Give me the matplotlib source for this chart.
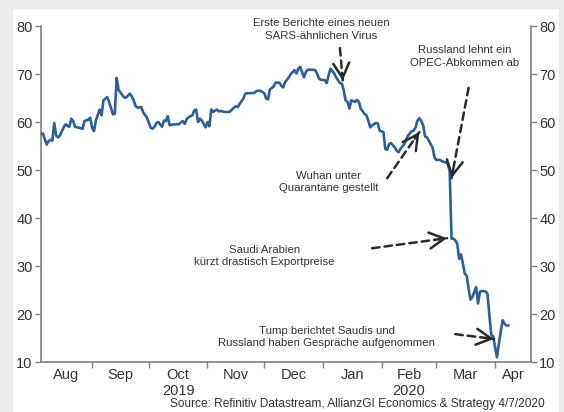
import matplotlib
matplotlib.use("Agg")
import matplotlib.pyplot as plt
import matplotlib.dates as mdates
import matplotlib.ticker as mticker
from matplotlib.patches import Rectangle
import numpy as np
import pandas as pd

plt.rcParams["font.family"] = ["Liberation Sans", "DejaVu Sans"]

# oil price, days counted from 5 Aug 2019
start = pd.Timestamp("2019-08-05")
days = [0, 1, 3, 4, 5, 6, 7, 8, 9, 10, 12, 13, 14, 15, 16, 17, 18, 20, 22, 23,
        25, 26, 27, 28, 29, 31, 32, 33, 35, 36, 38, 39, 40, 41, 43, 44, 45, 47, 48, 49,
        50, 51, 53, 54, 56, 58, 59, 60, 61, 62, 64, 65, 66, 67, 68, 70, 72, 73, 75, 76,
        77, 78, 80, 81, 82, 83, 84, 85, 87, 88, 89, 90, 91, 93, 94, 95, 97, 99, 100, 102,
        103, 104, 105, 107, 108, 109, 111, 113, 114, 116, 118, 119, 120, 121, 123, 124, 126, 127, 128, 129,
        131, 132, 134, 135, 136, 137, 138, 139, 140, 141, 143, 145, 146, 147, 148, 150, 151, 152, 153, 155,
        156, 157, 158, 159, 160, 161, 162, 163, 164, 166, 167, 168, 169, 171, 172, 173, 174, 175, 177, 178,
        179, 181, 182, 183, 184, 185, 187, 188, 189, 190, 192, 193, 194, 196, 197, 198, 199, 200, 201, 202,
        203, 204, 205, 207, 208, 209, 211, 212, 214, 215, 216, 217, 218, 219, 220, 221, 222, 223, 224, 225,
        226, 227, 228, 229, 230, 231, 232, 233, 235, 236, 237, 238, 239, 240, 241, 242, 243, 244, 245, 246,
        247]
prices = [57.5, 57.6, 55.3, 56.0, 56.3, 56.1, 59.8, 57.2, 56.8, 57.2, 58.9, 59.5, 59.2, 59.0, 60.7, 60.2, 59.0, 58.8, 58.6, 60.2,
          60.5, 60.9, 58.8, 58.1, 60.3, 62.6, 61.4, 64.5, 65.2, 64.2, 61.6, 61.7, 69.2, 66.7, 65.6, 65.1, 65.1, 65.9, 65.3, 64.5,
          63.3, 63.0, 63.1, 62.0, 60.9, 58.8, 58.6, 59.0, 59.8, 60.0, 59.0, 60.3, 60.2, 61.2, 59.3, 59.5, 59.5, 59.6, 60.2, 59.6,
          60.6, 61.0, 61.4, 62.4, 62.6, 60.0, 60.7, 60.3, 58.9, 60.0, 59.1, 62.6, 62.1, 62.6, 62.2, 62.3, 62.1, 62.1, 62.2, 63.0,
          63.3, 63.1, 63.8, 64.9, 65.9, 66.0, 66.0, 66.1, 66.5, 66.5, 66.0, 64.9, 64.7, 66.8, 67.4, 68.2, 68.2, 67.6, 67.2, 68.3,
          69.3, 70.0, 70.8, 70.1, 71.1, 71.5, 70.4, 69.3, 70.4, 70.9, 70.9, 70.8, 70.0, 69.0, 68.8, 68.7, 68.1, 69.7, 71.1, 70.1,
          69.3, 68.7, 68.1, 68.0, 66.6, 64.5, 64.2, 62.8, 64.5, 64.2, 64.6, 64.2, 62.8, 61.7, 61.4, 60.3, 58.9, 59.3, 59.8, 59.7,
          58.2, 57.9, 54.4, 54.2, 55.4, 55.6, 54.7, 54.0, 53.7, 54.4, 55.4, 56.3, 57.2, 58.1, 58.2, 58.9, 60.3, 60.8, 60.2, 59.3,
          57.0, 56.8, 56.1, 54.6, 52.6, 52.1, 52.1, 51.8, 51.6, 51.2, 49.9, 35.7, 35.7, 35.3, 34.7, 31.5, 32.4, 30.5, 28.4, 28.0,
          25.3, 23.0, 23.5, 24.6, 25.6, 22.2, 24.6, 24.8, 24.7, 24.2, 19.7, 15.6, 15.4, 13.1, 11.0, 13.8, 16.3, 18.7, 18.0, 17.6,
          17.6]

dates = start + pd.to_timedelta(days, unit="D")
x_end = pd.Timestamp("2020-04-20")

line_color = "#2d5f9a"
text_color = "#333333"
spine_color = "#808080"

fig = plt.figure(figsize=(5.64, 4.12), dpi=100, facecolor="#ebebeb")
fig.patches.append(Rectangle((13 / 564, 0), 546 / 564, 403 / 412,
                             transform=fig.transFigure, facecolor="white",
                             edgecolor="none", zorder=-10))
ax = fig.add_axes([41 / 564, 1 - 362 / 412, 490 / 564, 336 / 412])
ax.set_facecolor("none")

ax.plot(dates, prices, color=line_color, lw=1.9, zorder=3)

ax.set_xlim(start, x_end)
ax.set_ylim(10, 80)

ax.spines["top"].set_visible(False)
for side in ["left", "right", "bottom"]:
    ax.spines[side].set_color(spine_color)
    ax.spines[side].set_linewidth(1.2)

ax.yaxis.set_major_locator(mticker.MultipleLocator(10))
ax.tick_params(axis="y", which="both", left=True, right=True, labelleft=True,
               labelright=True, direction="out", length=4, width=1,
               color=spine_color, labelsize=10.5, labelcolor=text_color)
ax.tick_params(axis="y", which="both", pad=2)

# month boundaries as ticks, month names centred in each month
month_starts = pd.date_range("2019-09-01", "2020-04-01", freq="MS")
ax.set_xticks(month_starts)
ax.xaxis.set_major_formatter(mticker.NullFormatter())
ax.tick_params(axis="x", which="major", direction="out", length=4, width=1,
               color=spine_color)

months = pd.date_range("2019-08-01", "2020-04-01", freq="MS")
centers = []
labels = []
for m in months:
    lo = max(m, start)
    hi = min(m + pd.offsets.MonthBegin(1), x_end)
    centers.append(lo + (hi - lo) / 2)
    lab = m.strftime("%b")
    if m.month == 10:
        lab += "\n2019"
    if m.month == 2:
        lab += "\n2020"
    labels.append(lab)
ax.set_xticks(centers, minor=True)
ax.set_xticklabels(labels, minor=True)
ax.tick_params(axis="x", which="minor", length=0, labelsize=10.5,
               labelcolor=text_color, pad=4)
for lab in ax.get_xticklabels(minor=True):
    lab.set_linespacing(1.2)


def d(n):
    return start + pd.Timedelta(days=n)


notes = [
    ("Erste Berichte eines neuen\nSARS-ähnlichen Virus", (148, 79.3), (158, 75.4), (159.5, 68.6)),
    ("Russland lehnt ein\nOPEC-Abkommen ab", (224, 73.6), (226, 67.1), (217, 48.3)),
    ("Wuhan unter\nQuarantäne gestellt", (152, 47.5), (183, 48.3), (200, 57.9)),
    ("Saudi Arabien\nkürzt drastisch Exportpreise", (118, 32.1), (175, 33.7), (214.6, 35.8)),
    ("Tump berichtet Saudis und\nRussland haben Gespräche aufgenommen", (151, 15.2), (219, 15.8), (239.4, 14.8)),
]

fig.canvas.draw()
for text, tpos, tail, head in notes:
    ax.text(d(tpos[0]), tpos[1], text, ha="center", va="center", fontsize=8.2,
            color=text_color, linespacing=1.35, clip_on=False)
    # dashed shaft
    ax.annotate("", xy=(d(head[0]), head[1]), xytext=(d(tail[0]), tail[1]),
                arrowprops=dict(arrowstyle="-", color="#2a2a2a", lw=1.8,
                                linestyle=(0, (3, 2)), shrinkA=0, shrinkB=0))
    # solid head
    ph = ax.transData.transform((mdates.date2num(d(head[0])), head[1]))
    pt = ax.transData.transform((mdates.date2num(d(tail[0])), tail[1]))
    u = (pt - ph) / np.hypot(*(pt - ph))
    off = u * 8 * 72 / 100
    ax.annotate("", xy=(d(head[0]), head[1]), xytext=(off[0], off[1]),
                textcoords="offset points",
                arrowprops=dict(arrowstyle="->, head_length=0.6, head_width=0.32",
                                color="#2a2a2a", lw=1.8, mutation_scale=18,
                                shrinkA=0, shrinkB=0))

fig.text(545 / 564, 1 - 404 / 412,
         "Source: Refinitiv Datastream, AllianzGI Economics & Strategy 4/7/2020",
         ha="right", va="center", fontsize=8.6, color=text_color)

fig.savefig("out.png", dpi=100, facecolor=fig.get_facecolor())
